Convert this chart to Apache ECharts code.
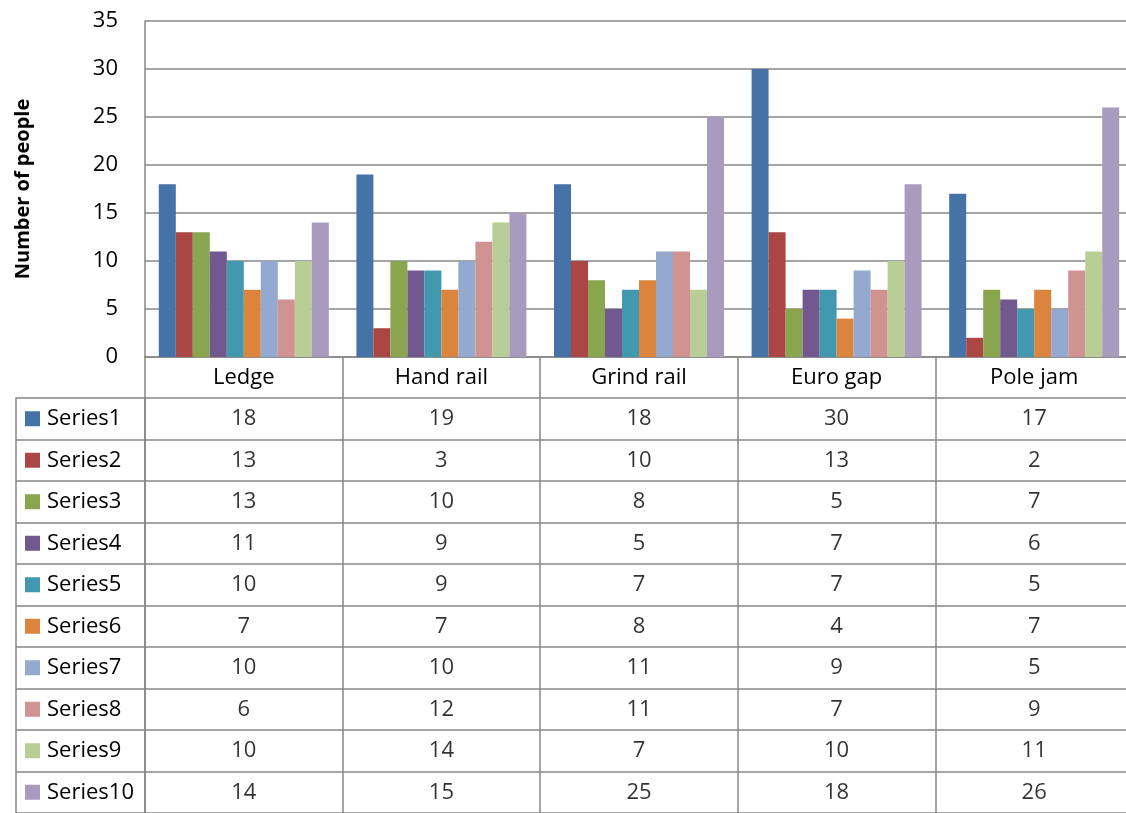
<!DOCTYPE html>
<html>
<head>
<meta charset="utf-8">
<script src="https://cdn.jsdelivr.net/npm/echarts@6/dist/echarts.min.js"></script>
<style>
  html, body { margin: 0; padding: 0; background: #fff; overflow: hidden; }
  /* 图表右边超出窗口一点，和原图一样被裁掉 */
  #chart { width: 1133px; height: 813px; }
</style>
</head>
<body>
<div id="chart"></div>
<script>
// 数据
var categories = ['Ledge', 'Hand rail', 'Grind rail', 'Euro gap', 'Pole jam'];
var seriesNames = ['Series1', 'Series2', 'Series3', 'Series4', 'Series5',
                   'Series6', 'Series7', 'Series8', 'Series9', 'Series10'];
var series1 = [18, 19, 18, 30, 17];
var series2 = [13, 3, 10, 13, 2];
var series3 = [13, 10, 8, 5, 7];
var series4 = [11, 9, 5, 7, 6];
var series5 = [10, 9, 7, 7, 5];
var series6 = [7, 7, 8, 4, 7];
var series7 = [10, 10, 11, 9, 5];
var series8 = [6, 12, 11, 7, 9];
var series9 = [10, 14, 7, 10, 11];
var series10 = [14, 15, 25, 18, 26];
var yTicks = [0, 5, 10, 15, 20, 25, 30, 35];

var allSeries = [series1, series2, series3, series4, series5,
                 series6, series7, series8, series9, series10];
var colors = ['#4572A7', '#AA4643', '#89A54E', '#71588F', '#4198AF',
              '#DB843D', '#93A9CF', '#D19392', '#B9CD96', '#A99BBD'];

var FONT = 'Open Sans';
var LINE = '#878787';

var myChart = echarts.init(document.getElementById('chart'));

// 柱子
var barSeries = allSeries.map(function (arr, i) {
    return {
        name: seriesNames[i],
        type: 'bar',
        xAxisIndex: 0,
        yAxisIndex: 0,
        data: arr,
        barWidth: 17,
        barGap: '0%',
        itemStyle: { color: colors[i] },
        silent: true
    };
});

// 数据表格里的数字
var tableCells = [];
allSeries.forEach(function (arr, si) {
    arr.forEach(function (v, ci) {
        tableCells.push([ci, si, v]);
    });
});

var rich = {};
colors.forEach(function (c, i) {
    rich['b' + i] = { width: 15, height: 15, backgroundColor: c };
});
rich.t = { fontFamily: FONT, fontSize: 22, color: '#000', padding: [0, 0, 0, 7] };

var option = {
    animation: false,
    backgroundColor: '#fff',
    grid: [
        { left: 145, right: 0, top: 21, height: 336 },
        { left: 145, right: 0, top: 398, height: 415 }
    ],
    xAxis: [{
        type: 'category',
        gridIndex: 0,
        data: categories,
        axisLine: { show: true, lineStyle: { color: LINE, width: 1.5 } },
        axisTick: { show: true, interval: 0, length: 41, lineStyle: { color: LINE, width: 1.5 } },
        axisLabel: { fontFamily: FONT, fontSize: 22, color: '#000', margin: 10 }
    }, {
        type: 'category',
        gridIndex: 1,
        data: categories,
        axisLine: { show: false },
        axisTick: { show: false },
        axisLabel: { show: false },
        splitLine: { show: true, interval: 0, lineStyle: { color: LINE, width: 1.5 } }
    }],
    yAxis: [{
        type: 'value',
        gridIndex: 0,
        min: yTicks[0],
        max: yTicks[yTicks.length - 1],
        interval: 5,
        name: 'Number of people',
        nameLocation: 'middle',
        nameRotate: 90,
        nameGap: 112,
        nameTextStyle: { fontFamily: FONT, fontSize: 20, fontWeight: 'bold', color: '#000' },
        axisLine: { show: true, lineStyle: { color: LINE, width: 1.5 } },
        axisTick: { show: false },
        axisLabel: { fontFamily: FONT, fontSize: 22, color: '#000', margin: 27 },
        splitLine: { show: true, lineStyle: { color: LINE, width: 1.5 } }
    }, {
        type: 'category',
        gridIndex: 1,
        inverse: true,
        data: seriesNames,
        axisLine: { show: true, lineStyle: { color: LINE, width: 1.5 } },
        axisTick: { show: true, interval: 0, length: 129, lineStyle: { color: LINE, width: 1.5 } },
        axisLabel: {
            interval: 0,
            align: 'left',
            margin: 120,
            formatter: function (val, idx) {
                return '{b' + idx + '|}{t|' + val + '}';
            },
            rich: rich
        },
        splitLine: { show: true, interval: 0, lineStyle: { color: LINE, width: 1.5 } }
    }, {
        // 表格左边框
        type: 'category',
        gridIndex: 1,
        position: 'left',
        offset: 129,
        data: seriesNames,
        axisLine: { show: true, lineStyle: { color: LINE, width: 1.5 } },
        axisTick: { show: false },
        axisLabel: { show: false }
    }],
    series: barSeries.concat([{
        type: 'scatter',
        xAxisIndex: 1,
        yAxisIndex: 1,
        symbolSize: 0,
        silent: true,
        data: tableCells,
        label: {
            show: true,
            position: 'inside',
            formatter: function (p) { return p.value[2]; },
            fontFamily: FONT,
            fontSize: 22,
            color: '#000'
        }
    }])
};

myChart.setOption(option);
</script>
</body>
</html>
